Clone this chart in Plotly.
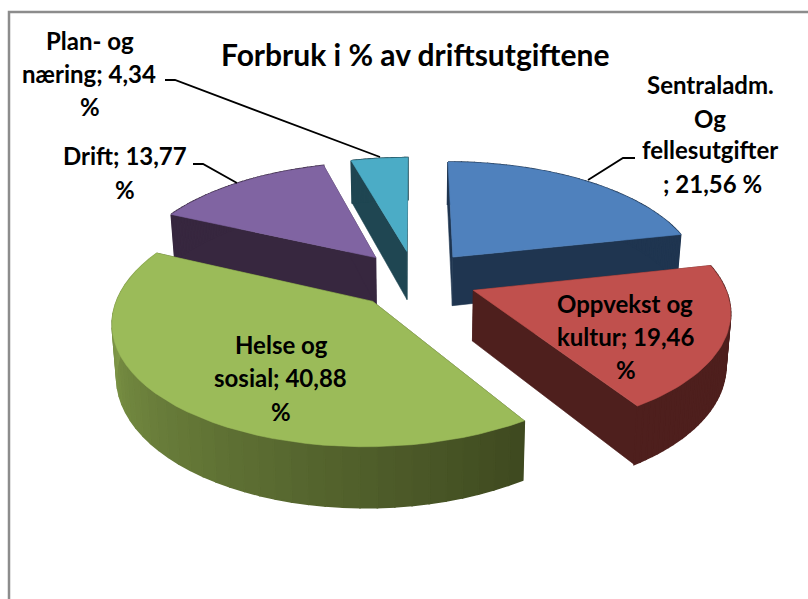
import math
import plotly.graph_objects as go

# ---- data ----
categories = ["Sentraladm. Og fellesutgifter", "Oppvekst og kultur", "Helse og sosial", "Drift", "Plan- og næring"]
values = [21.56, 19.46, 40.88, 13.77, 4.34]
top_colors = ["#4f81bd", "#c0504d", "#9bbb59", "#8064a2", "#4bacc6"]
wall_colors = ["#1f3550", "#4e1f1d", "#3f4a20", "#37273f", "#1f4652"]
title_text = "Forbruk i % av driftsutgiftene"
label_lines = [
    ("Sentraladm.", 710, 84), ("Og", 710, 118), ("fellesutgifter", 710, 149), ("; 21,56 %", 712, 183),
    ("Oppvekst og", 625, 303), ("kultur; 19,46", 625, 336), ("%", 626, 369),
    ("Helse og", 281, 344), ("sosial; 40,88", 280, 377), ("%", 281, 411),
    ("Drift; 13,77", 125, 155), ("%", 125, 189),
    ("Plan- og", 90, 40), ("næring; 4,34", 89, 73), ("%", 90, 106),
]
leaders = [
    ([635, 623, 588], [158, 158, 180]),
    ([193, 203, 237], [164, 164, 183]),
    ([165, 175, 380], [80, 80, 157]),
]

# ---- projection of the exploded pie ----
CX, CY = 415, 279
RX, RY = 249, 115.7
PERSP = 0.152
EXPLODE = 0.25
DEPTH = 50


def project(px, py, low=False):
    s = 1 / (1 - PERSP * py)
    x = CX + RX * px * s
    y = CY + RY * py * s
    if low:
        x = CX + (x - CX) * 0.985
        y = y + DEPTH * s
    return x, y


fig = go.Figure()


def poly(points, color, width=0.6):
    fig.add_trace(go.Scatter(
        x=[p[0] for p in points] + [points[0][0]],
        y=[p[1] for p in points] + [points[0][1]],
        mode="lines", fill="toself", fillcolor=color,
        line=dict(color=color, width=width), hoverinfo="skip", showlegend=False))


def mix(a, b, t):
    ca = [int(a[i:i + 2], 16) for i in (1, 3, 5)]
    cb = [int(b[i:i + 2], 16) for i in (1, 3, 5)]
    return "rgb(%d,%d,%d)" % tuple(round(u + (v - u) * t) for u, v in zip(ca, cb))


total = sum(values)
slices = []
start = 0.0
for i, v in enumerate(values):
    sweep = v / total * 2 * math.pi
    slices.append((i, start, start + sweep))
    start += sweep

# painter's order: back slices first
for i, a0, a1 in [slices[4], slices[3], slices[0], slices[1], slices[2]]:
    mid = (a0 + a1) / 2
    ox, oy = EXPLODE * math.sin(mid), -EXPLODE * math.cos(mid)
    n = 44
    rim = [(ox + math.sin(a0 + (a1 - a0) * k / n), oy - math.cos(a0 + (a1 - a0) * k / n)) for k in range(n + 1)]
    wall = wall_colors[i]
    # radial faces
    for pt in (rim[0], rim[-1]):
        poly([project(ox, oy), project(*pt), project(*pt, low=True), project(ox, oy, low=True)], wall)
    # outer wall
    for k in range(n):
        color = mix(wall, "#8ca850", k / (n - 1)) if i == 2 else wall
        poly([project(*rim[k]), project(*rim[k + 1]), project(*rim[k + 1], low=True), project(*rim[k], low=True)],
             color, width=1.6)
    # top face
    poly([project(ox, oy)] + [project(*p) for p in rim], top_colors[i])

for lx, ly in leaders:
    fig.add_trace(go.Scatter(x=lx, y=ly, mode="lines", line=dict(color="#000000", width=1.8),
                             hoverinfo="skip", showlegend=False))

FONT = "Lato, Carlito, sans-serif"
annotations = [dict(text="<b>" + title_text + "</b>", x=415, y=54, xref="x", yref="y", showarrow=False,
                    font=dict(family=FONT, size=30, color="#000000"))]
for text, x, y in label_lines:
    annotations.append(dict(text="<b>" + text + "</b>", x=x, y=y, xref="x", yref="y", showarrow=False,
                            font=dict(family=FONT, size=24, color="#000000")))

fig.update_layout(
    width=808, height=599, margin=dict(l=0, r=0, t=0, b=0),
    paper_bgcolor="#ffffff", plot_bgcolor="#ffffff", showlegend=False, hovermode=False,
    xaxis=dict(range=[0, 808], visible=False, fixedrange=True),
    yaxis=dict(range=[599, 0], visible=False, fixedrange=True),
    annotations=annotations,
    shapes=[dict(type="rect", xref="x", yref="y", x0=9, y0=12, x1=830, y1=640,
                 line=dict(color="#8c8c8c", width=2.5), layer="below")],
)
fig.write_html("out.html", config={"displayModeBar": False},
               post_script="document.body.style.margin='0';document.body.style.overflow='hidden';")
